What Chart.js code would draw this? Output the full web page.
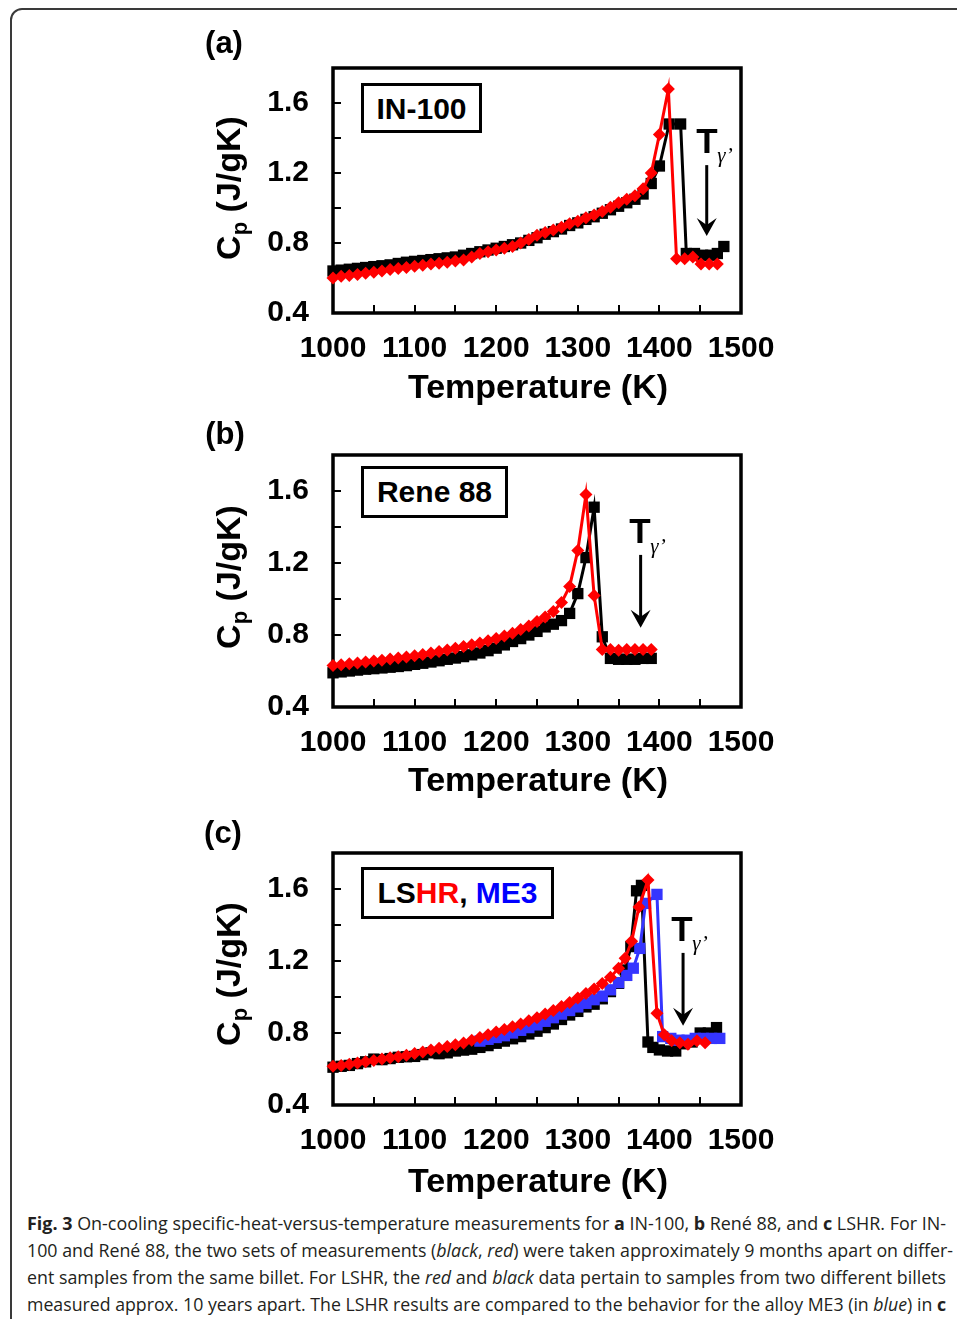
<!DOCTYPE html>
<html>
<head>
<meta charset="utf-8">
<script src="https://cdn.jsdelivr.net/npm/chart.js@4.4.1/dist/chart.umd.min.js"></script>
<style>
  body { margin: 0; background: #fff; }
  #page { position: relative; width: 957px; height: 1319px; overflow: hidden; font-family: 'Liberation Sans', Arial, sans-serif; }
  .frame { position: absolute; left: 10px; top: 8px; width: 1000px; height: 1400px; border: 2px solid #3a3a3a; border-radius: 12px; }
  .panel { position: absolute; left: 0; width: 957px; }
  .lbl { position: absolute; transform: translate(-50%, -50%); font-weight: bold; white-space: nowrap; color: #000; line-height: 1; }
  .ytitle { position: absolute; transform: translate(-50%, -50%) rotate(-90deg); font-weight: bold; font-size: 34px; white-space: nowrap; line-height: 1; }
  .ytitle sub { font-size: 22px; vertical-align: -0.3em; }
  .box { position: absolute; border: 3px solid #000; background: #fff; font-weight: bold; font-size: 30px; line-height: 45px; text-align: center; box-sizing: border-box; }
  .gam { position: absolute; transform: translate(-50%, -50%); font-family: 'Liberation Serif', serif; font-style: italic; font-size: 21px; line-height: 1; }
  .cap { position: absolute; left: 27px; font-family: 'Open Sans', sans-serif; font-size: 18px; color: #231f20; white-space: nowrap; transform-origin: 0 50%; line-height: 27px; }
</style>
</head>
<body>
<div id="page">
  <div class="frame"></div>

  <div class="panel" style="top:0px"><canvas id="chartA" width="957" height="370"></canvas></div>
  <div class="panel" style="top:387px"><canvas id="chartB" width="957" height="377"></canvas></div>
  <div class="panel" style="top:785px"><canvas id="chartC" width="957" height="377"></canvas></div>

  <!-- panel labels -->
  <div class="lbl" style="left:224px;top:42px;font-size:31px">(a)</div>
  <div class="lbl" style="left:225px;top:433px;font-size:31px">(b)</div>
  <div class="lbl" style="left:223px;top:832px;font-size:31px">(c)</div>

  <!-- axis titles -->
  <div class="ytitle" style="left:231px;top:188px">C<sub>p</sub> (J/gK)</div>
  <div class="ytitle" style="left:231px;top:577px">C<sub>p</sub> (J/gK)</div>
  <div class="ytitle" style="left:231px;top:974px">C<sub>p</sub> (J/gK)</div>
  <div class="lbl" style="left:538px;top:386px;font-size:34px">Temperature (K)</div>
  <div class="lbl" style="left:538px;top:779px;font-size:34px">Temperature (K)</div>
  <div class="lbl" style="left:538px;top:1180px;font-size:34px">Temperature (K)</div>

  <!-- alloy boxes -->
  <div class="box" style="left:361px;top:83px;width:121px;height:50px">IN-100</div>
  <div class="box" style="left:361px;top:466px;width:147px;height:52px">Rene 88</div>
  <div class="box" style="left:361px;top:867px;width:193px;height:52px">LS<span style="color:#ff0000">HR</span>, <span style="color:#0000ff">ME3</span></div>

  <!-- T gamma prime -->
  <div class="lbl" style="left:707px;top:140px;font-size:35px">T</div>
  <div class="gam" style="left:725px;top:155px">γ’</div>
  <div class="lbl" style="left:640px;top:530px;font-size:35px">T</div>
  <div class="gam" style="left:658px;top:546px">γ’</div>
  <div class="lbl" style="left:682px;top:928px;font-size:35px">T</div>
  <div class="gam" style="left:700px;top:943px">γ’</div>

  <!-- caption -->
  <div class="cap" style="top:1210px"><b>Fig. 3</b> On-cooling specific-heat-versus-temperature measurements for <b>a</b> IN-100, <b>b</b> René 88, and <b>c</b> LSHR. For IN-</div>
  <div class="cap" style="top:1237px">100 and René 88, the two sets of measurements (<i>black</i>, <i>red</i>) were taken approximately 9 months apart on differ-</div>
  <div class="cap" style="top:1264px">ent samples from the same billet. For LSHR, the <i>red</i> and <i>black</i> data pertain to samples from two different billets</div>
  <div class="cap" style="top:1291px">measured approx. 10 years apart. The LSHR results are compared to the behavior for the alloy ME3 (in <i>blue</i>) in <b>c</b></div>
</div>

<script>
// ---- data ----
// (a) IN-100
const tempA_black = [1000,1010,1020,1030,1040,1050,1060,1070,1080,1090,1100,1110,1120,1130,1140,1150,1160,1170,1180,1190,1200,1210,1220,1230,1240,1250,1260,1270,1280,1290,1300,1310,1320,1330,1340,1350,1360,1370,1380,1390,1400,1412,1426,1433,1443,1453,1463,1471,1479];
const cpA_black = [0.64,0.645,0.65,0.655,0.66,0.665,0.67,0.675,0.683,0.69,0.695,0.70,0.705,0.71,0.715,0.72,0.73,0.74,0.75,0.76,0.77,0.78,0.79,0.80,0.815,0.83,0.85,0.865,0.88,0.90,0.915,0.935,0.95,0.97,0.99,1.01,1.03,1.05,1.08,1.14,1.24,1.48,1.48,0.74,0.74,0.73,0.73,0.74,0.78];
const tempA_red = [1000,1010,1020,1030,1040,1050,1060,1070,1080,1090,1100,1110,1120,1130,1140,1150,1160,1170,1180,1190,1200,1210,1220,1230,1240,1250,1260,1270,1280,1290,1300,1310,1320,1330,1340,1350,1360,1370,1380,1390,1400,1411,1421,1431,1441,1451,1461,1471];
const cpA_red = [0.60,0.61,0.615,0.62,0.627,0.633,0.64,0.648,0.655,0.66,0.667,0.673,0.68,0.685,0.69,0.697,0.703,0.72,0.74,0.75,0.76,0.77,0.78,0.80,0.82,0.845,0.86,0.875,0.89,0.91,0.925,0.945,0.96,0.98,1.005,1.03,1.05,1.07,1.11,1.20,1.42,1.68,0.71,0.71,0.72,0.68,0.68,0.68];

// (b) Rene 88
const tempB = [1000,1010,1020,1030,1040,1050,1060,1070,1080,1090,1100,1110,1120,1130,1140,1150,1160,1170,1180,1190,1200,1210,1220,1230,1240,1250,1260,1270,1280,1290,1300,1310,1320,1330,1340,1350,1360,1370,1380,1390];
const cpB_black = [0.59,0.595,0.60,0.605,0.61,0.613,0.617,0.621,0.625,0.63,0.637,0.643,0.65,0.657,0.665,0.672,0.68,0.69,0.70,0.713,0.727,0.745,0.764,0.78,0.80,0.82,0.845,0.86,0.88,0.92,1.03,1.23,1.51,0.79,0.67,0.665,0.665,0.665,0.67,0.67];
const cpB_red = [0.63,0.635,0.64,0.645,0.65,0.655,0.66,0.667,0.672,0.678,0.685,0.692,0.70,0.708,0.716,0.726,0.736,0.746,0.756,0.768,0.78,0.795,0.81,0.83,0.85,0.875,0.90,0.93,0.98,1.07,1.27,1.58,1.02,0.72,0.72,0.715,0.72,0.72,0.72,0.72];

// (c) LSHR (black, red) and ME3 (blue)
const tempC_black = [1000,1010,1020,1030,1040,1050,1060,1070,1080,1090,1100,1110,1120,1130,1140,1150,1160,1170,1180,1190,1200,1210,1220,1230,1240,1250,1260,1270,1280,1290,1300,1310,1320,1330,1340,1350,1358,1365,1372,1378,1386,1392,1400,1410,1420,1430,1440,1450,1460,1470];
const cpC_black = [0.61,0.615,0.62,0.63,0.64,0.655,0.652,0.658,0.665,0.668,0.67,0.68,0.69,0.685,0.69,0.70,0.705,0.71,0.72,0.73,0.743,0.755,0.768,0.78,0.795,0.81,0.83,0.85,0.875,0.90,0.92,0.945,0.96,0.99,1.03,1.076,1.15,1.28,1.59,1.62,0.75,0.72,0.706,0.70,0.70,0.74,0.75,0.80,0.80,0.83];
const tempC_red = [1000,1010,1020,1030,1040,1050,1060,1070,1080,1090,1100,1110,1120,1130,1140,1150,1160,1170,1180,1190,1200,1210,1220,1230,1240,1250,1260,1270,1280,1290,1300,1310,1320,1330,1340,1350,1358,1366,1375,1386,1397,1406,1415,1425,1435,1446,1456];
const cpC_red = [0.615,0.62,0.627,0.633,0.64,0.647,0.655,0.662,0.668,0.677,0.686,0.695,0.705,0.715,0.725,0.735,0.745,0.76,0.775,0.79,0.805,0.82,0.835,0.85,0.868,0.885,0.905,0.925,0.947,0.97,0.995,1.02,1.045,1.075,1.11,1.16,1.215,1.31,1.50,1.65,0.91,0.79,0.757,0.746,0.738,0.757,0.746];
const tempC_blue = [1180,1190,1200,1210,1220,1230,1240,1250,1260,1270,1280,1290,1300,1310,1320,1330,1340,1350,1360,1368,1376,1383,1397,1404,1414,1424,1434,1444,1454,1464,1474];
const cpC_blue = [0.755,0.765,0.775,0.785,0.80,0.815,0.83,0.845,0.865,0.885,0.905,0.925,0.945,0.965,0.985,1.005,1.04,1.08,1.12,1.16,1.27,1.52,1.57,0.78,0.77,0.76,0.76,0.77,0.77,0.77,0.77];

const yLabels = [0.4, 0.8, 1.2, 1.6];
const xLabels = [1000, 1100, 1200, 1300, 1400, 1500];

function pts(xs, ys) {
    return xs.map((x, i) => ({ x: x, y: ys[i] }));
}

function series(xs, ys, color, style, radius) {
    return {
        data: pts(xs, ys),
        borderColor: color,
        backgroundColor: color,
        borderWidth: 3,
        pointStyle: style,
        pointRadius: radius,
        pointBorderWidth: 0,
        tension: 0,
        clip: 12
    };
}

// box around the plot, inner tick marks and the T_gamma' arrow
const plotFrame = {
    id: 'plotFrame',
    beforeDatasetsDraw(chart) {
        const { ctx, chartArea: a, scales: { x, y } } = chart;
        ctx.save();
        ctx.strokeStyle = '#000';
        ctx.lineWidth = 2;
        x.ticks.forEach(t => {
            if (t.value <= x.min || t.value >= x.max) return;
            const px = Math.round(x.getPixelForValue(t.value));
            ctx.beginPath(); ctx.moveTo(px, a.bottom); ctx.lineTo(px, a.bottom - 8); ctx.stroke();
        });
        y.ticks.forEach(t => {
            if (t.value <= y.min + 1e-6 || t.value >= y.max - 1e-6) return;
            const py = Math.round(y.getPixelForValue(t.value));
            ctx.beginPath(); ctx.moveTo(a.left, py); ctx.lineTo(a.left + 8, py); ctx.stroke();
        });
        ctx.lineWidth = 3.5;
        ctx.strokeRect(a.left, a.top, a.right - a.left, a.bottom - a.top);
        ctx.restore();
    },
    afterDraw(chart, args, opts) {
        if (!opts.arrowT) return;
        const { ctx, scales: { x, y } } = chart;
        const px = x.getPixelForValue(opts.arrowT);
        const y0 = y.getPixelForValue(opts.arrowFrom);
        const y1 = y.getPixelForValue(opts.arrowTo);
        ctx.save();
        ctx.strokeStyle = '#000';
        ctx.fillStyle = '#000';
        ctx.lineWidth = 3;
        ctx.beginPath(); ctx.moveTo(px, y0); ctx.lineTo(px, y1 - 8); ctx.stroke();
        ctx.beginPath();
        ctx.moveTo(px, y1);
        ctx.lineTo(px - 10, y1 - 18);
        ctx.lineTo(px, y1 - 11);
        ctx.lineTo(px + 10, y1 - 18);
        ctx.closePath();
        ctx.fill();
        ctx.restore();
    }
};

const tickFont = { family: "'Liberation Sans', Arial, sans-serif", size: 30, weight: 'bold' };

function makeChart(id, datasets, arrow) {
    new Chart(document.getElementById(id), {
        type: 'line',
        data: { datasets: datasets },
        options: {
            responsive: false,
            animation: false,
            devicePixelRatio: 1,
            layout: { padding: { left: 253, right: 216, top: 68, bottom: 7 } },
            plugins: {
                legend: { display: false },
                tooltip: { enabled: false },
                plotFrame: arrow
            },
            scales: {
                x: {
                    type: 'linear',
                    min: 1000,
                    max: 1500,
                    afterFit: s => { s.height = 50; },
                    border: { display: false },
                    grid: { display: false, drawTicks: false },
                    ticks: {
                        stepSize: 50,
                        autoSkip: false,
                        maxRotation: 0,
                        padding: 18,
                        color: '#000',
                        font: tickFont,
                        callback: v => xLabels.includes(v) ? String(v) : ''
                    }
                },
                y: {
                    min: 0.4,
                    max: 1.8,
                    afterFit: s => { s.width = 80; },
                    border: { display: false },
                    grid: { display: false, drawTicks: false },
                    ticks: {
                        stepSize: 0.2,
                        autoSkip: false,
                        padding: 24,
                        color: '#000',
                        font: tickFont,
                        callback: v => yLabels.some(l => Math.abs(l - v) < 1e-6) ? v.toFixed(1) : ''
                    }
                }
            }
        },
        plugins: [plotFrame]
    });
}

// red is listed first so it sits on top, black at the bottom
makeChart('chartA', [
    series(tempA_red, cpA_red, '#ff0000', 'rectRot', 6.5),
    series(tempA_black, cpA_black, '#000000', 'rect', 8)
], { arrowT: 1458, arrowFrom: 1.245, arrowTo: 0.84 });

makeChart('chartB', [
    series(tempB, cpB_red, '#ff0000', 'rectRot', 6.5),
    series(tempB, cpB_black, '#000000', 'rect', 8)
], { arrowT: 1377, arrowFrom: 1.245, arrowTo: 0.84 });

makeChart('chartC', [
    series(tempC_red, cpC_red, '#ff0000', 'rectRot', 6.5),
    series(tempC_blue, cpC_blue, '#3535ff', 'rect', 8),
    series(tempC_black, cpC_black, '#000000', 'rect', 8)
], { arrowT: 1429, arrowFrom: 1.245, arrowTo: 0.84 });

// squeeze caption lines to the measured widths of the original
const capWidths = [919, 926, 919, 919];
document.querySelectorAll('.cap').forEach((el, i) => {
    el.style.display = 'inline-block';
    const w = el.getBoundingClientRect().width;
    el.style.transform = 'scaleX(' + (capWidths[i] / w) + ')';
});
</script>
</body>
</html>
